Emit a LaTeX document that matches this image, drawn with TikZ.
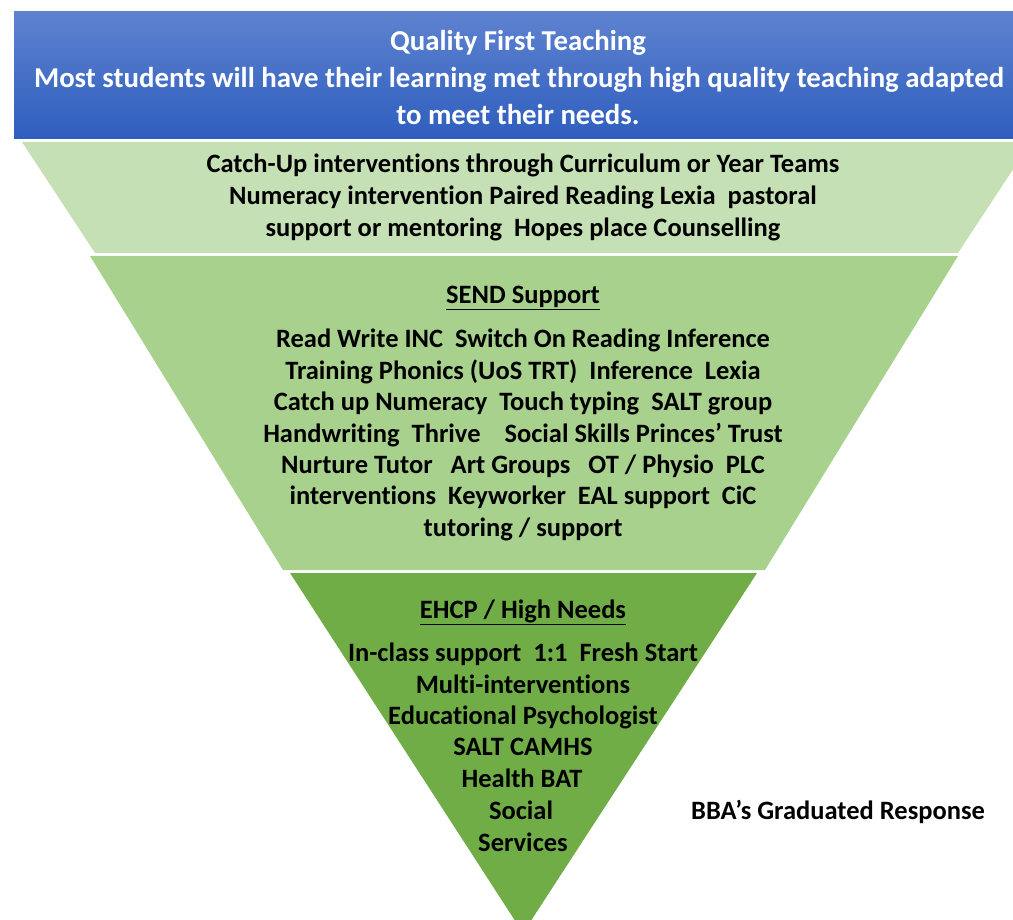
\documentclass[tikz,border=0pt]{standalone}
\usepackage{fontspec}
\setmainfont[Ligatures=NoCommon]{Carlito}
\begin{document}
\begin{tikzpicture}[x=1pt,y=-1pt,
  lbl/.style={font=\bfseries\fontsize{26.5}{30}\selectfont, text=black, inner sep=0pt, anchor=base, yshift=-1.5pt},
  ban/.style={font=\bfseries\fontsize{28.8}{32}\selectfont, text=white, inner sep=0pt, anchor=base, yshift=-1.5pt}]
\useasboundingbox (0,0) rectangle (1013,920);
\clip (0,0) rectangle (1013,920);
\definecolor{lg}{HTML}{C5E0B4}
\definecolor{mg}{HTML}{A9D18E}
\definecolor{dg}{HTML}{70AD47}
\definecolor{btop}{RGB}{94,130,207}
\definecolor{bbot}{RGB}{46,94,190}
% banner
\shade[top color=btop, bottom color=bbot] (14,12) rectangle (1013,139);
% layers
\fill[lg] (22,142) -- (1031,142) -- (958,253) -- (95,253) -- cycle;
\fill[mg] (90,256) -- (958,256) -- (765,570) -- (283,570) -- cycle;
\fill[dg] (290,573) -- (757,573) -- (523,933) -- cycle;
% banner text
\node[ban] (b1) at (518,49) {Quality First Teaching};
\node[ban] (b2) at (519,86) {Most students will have their learning met through high quality teaching adapted};
\node[ban] (b3) at (518,123) {to meet their needs.};
% light green
\node[lbl] (l1) at (523,171) {Catch-Up interventions through Curriculum or Year Teams};
\node[lbl] (l2) at (523,203) {Numeracy intervention Paired Reading Lexia\ \ pastoral};
\node[lbl] (l3) at (523,235) {support or mentoring\ \ Hopes place Counselling};
% SEND
\node[lbl] (s0) at (523,302) {\underline{SEND Support}};
\node[lbl] (s1) at (523,346) {Read Write INC\ \ Switch On Reading Inference};
\node[lbl] (s2) at (523,378) {Training Phonics (UoS TRT)\ \ Inference\ \ Lexia};
\node[lbl] (s3) at (523,409) {Catch up Numeracy\ \ Touch typing\ \ SALT group};
\node[lbl] (s4) at (523,441) {Handwriting\ \ Thrive\ \ \ \ Social Skills Princes’ Trust};
\node[lbl] (s5) at (523,472) {Nurture Tutor\ \ \ Art Groups\ \ \ OT / Physio\ \ PLC};
\node[lbl] (s6) at (523,503) {interventions\ \ Keyworker\ \ EAL support\ \ CiC};
\node[lbl] (s7) at (523,535) {tutoring / support};
% EHCP
\node[lbl] (e0) at (523,617) {\underline{EHCP / High Needs}};
\node[lbl] (e1) at (523,660) {In-class support\ \ 1:1\ \ Fresh Start};
\node[lbl] (e2) at (523,692) {Multi-interventions};
\node[lbl] (e3) at (523,723) {Educational Psychologist};
\node[lbl] (e4) at (523,754) {SALT CAMHS};
\node[lbl] (e5) at (522,786) {Health BAT};
\node[lbl] (e6) at (521,818) {Social};
\node[lbl] (e7) at (523,850) {Services};
% caption
\node[lbl] (cap) at (838,818) {BBA’s Graduated Response};
\end{tikzpicture}
\end{document}
